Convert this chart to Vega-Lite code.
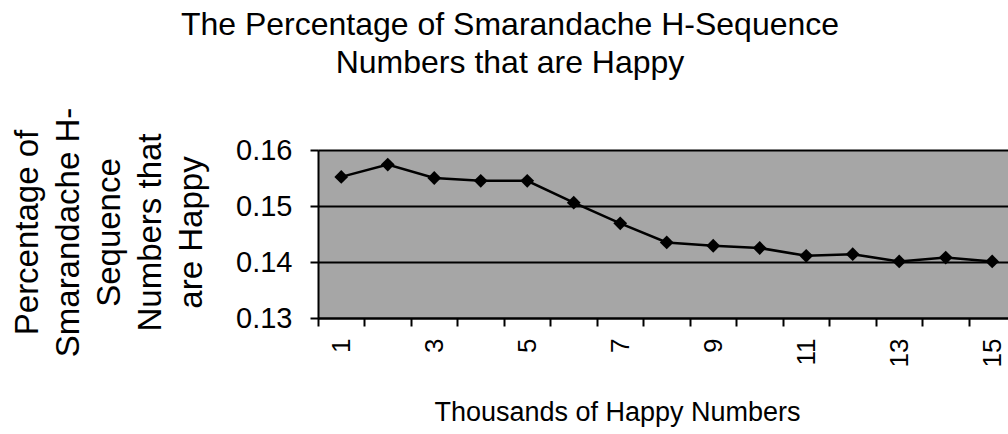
{
  "$schema": "https://vega.github.io/schema/vega-lite/v6.json",
  "autosize": "none",
  "width": 690,
  "height": 168,
  "padding": {"left": 318, "top": 150, "right": 0, "bottom": 116},
  "background": "white",
  "view": {"fill": "#a6a6a6", "stroke": null},
  "title": {
    "text": ["The Percentage of Smarandache H-Sequence", "Numbers that are Happy"],
    "font": "Liberation Sans",
    "fontSize": 32,
    "fontWeight": "normal",
    "color": "black",
    "anchor": "middle",
    "frame": "group",
    "dx": -153,
    "offset": 27,
    "lineHeight": 38
  },
  "data": {
    "values": [
      {"k": 1, "pct": 0.1552},
      {"k": 2, "pct": 0.1574},
      {"k": 3, "pct": 0.1550},
      {"k": 4, "pct": 0.1545},
      {"k": 5, "pct": 0.1545},
      {"k": 6, "pct": 0.1506},
      {"k": 7, "pct": 0.1469},
      {"k": 8, "pct": 0.1435},
      {"k": 9, "pct": 0.1429},
      {"k": 10, "pct": 0.1425},
      {"k": 11, "pct": 0.1411},
      {"k": 12, "pct": 0.1414},
      {"k": 13, "pct": 0.1401},
      {"k": 14, "pct": 0.1408},
      {"k": 15, "pct": 0.1401}
    ]
  },
  "encoding": {
    "x": {
      "field": "k",
      "type": "quantitative",
      "scale": {"domain": [0.5, 15.34], "nice": false, "zero": false},
      "axis": {
        "title": "Thousands of Happy Numbers",
        "titleFont": "Liberation Sans",
        "titleFontSize": 27,
        "titleFontWeight": "normal",
        "titleColor": "black",
        "titleX": 299,
        "titleY": 102,
        "titleAnchor": null,
        "titleBaseline": "alphabetic",
        "values": [1, 2, 3, 4, 5, 6, 7, 8, 9, 10, 11, 12, 13, 14, 15],
        "format": "d",
        "labelExpr": "datum.value % 2 === 1 ? datum.label : ''",
        "labelAngle": -90,
        "labelFont": "Liberation Sans",
        "labelFontSize": 26,
        "labelColor": "black",
        "labelPadding": 12,
        "labelOverlap": false,
        "labelFlush": false,
        "labelOffset": 23.25,
        "grid": false,
        "tickSize": 8,
        "tickWidth": 2,
        "tickColor": "black",
        "tickOffset": -23.25,
        "domainColor": "black",
        "domainWidth": 2
      }
    },
    "y": {
      "field": "pct",
      "type": "quantitative",
      "scale": {"domain": [0.13, 0.16], "nice": false, "zero": false},
      "axis": {
        "title": ["Percentage of", "Smarandache H-", "Sequence", "Numbers that", "are Happy"],
        "titleFont": "Liberation Sans",
        "titleFontSize": 33,
        "titleFontWeight": "normal",
        "titleColor": "black",
        "titleAngle": -90,
        "titleAlign": "center",
        "titleBaseline": "middle",
        "titleLineHeight": 41,
        "titleX": -291,
        "titleY": 82,
        "titleAnchor": null,
        "values": [0.13, 0.14, 0.15, 0.16],
        "format": ".2f",
        "labelFont": "Liberation Sans",
        "labelFontSize": 29,
        "labelColor": "black",
        "labelPadding": 18,
        "tickSize": 8,
        "tickWidth": 2,
        "tickColor": "black",
        "grid": true,
        "gridColor": "black",
        "gridWidth": 2,
        "domainColor": "black",
        "domainWidth": 2
      }
    }
  },
  "layer": [
    {"mark": {"type": "line", "color": "black", "strokeWidth": 2.5}},
    {"mark": {"type": "point", "shape": "diamond", "filled": true, "color": "black", "size": 190, "opacity": 1}}
  ]
}
